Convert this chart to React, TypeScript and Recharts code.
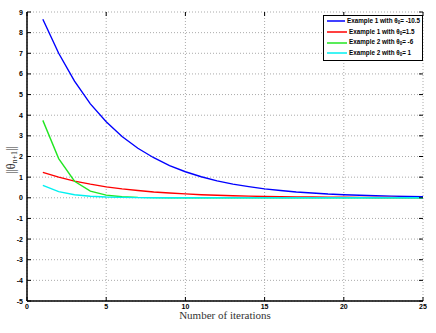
import { LineChart, Line, XAxis, YAxis, CartesianGrid } from 'recharts'

const iterations = [1, 2, 3, 4, 5, 6, 7, 8, 9, 10, 11, 12, 13, 14, 15, 16, 17, 18, 19, 20, 21, 22, 23, 24, 25]
const ex1Neg = [8.65, 7.0, 5.65, 4.55, 3.68, 2.97, 2.4, 1.94, 1.56, 1.26, 1.02, 0.82, 0.66, 0.54, 0.43, 0.35, 0.28, 0.23, 0.18, 0.15, 0.12, 0.1, 0.08, 0.06, 0.05]
const ex1Pos = [1.23, 1.0, 0.81, 0.66, 0.53, 0.43, 0.35, 0.28, 0.23, 0.19, 0.15, 0.12, 0.1, 0.08, 0.065, 0.053, 0.043, 0.035, 0.028, 0.023, 0.018, 0.015, 0.012, 0.01, 0.008]
const ex2Neg = [3.75, 1.9, 0.8, 0.32, 0.13, 0.05, 0.02, 0.01, 0.004, 0.002, 0.001, 0, 0, 0, 0, 0, 0, 0, 0, 0, 0, 0, 0, 0, 0]
const ex2Pos = [0.6, 0.3, 0.15, 0.075, 0.037, 0.018, 0.009, 0.005, 0.002, 0.001, 0, 0, 0, 0, 0, 0, 0, 0, 0, 0, 0, 0, 0, 0, 0]

const xTicks = [0, 5, 10, 15, 20, 25]
const yTicks = [-5, -4, -3, -2, -1, 0, 1, 2, 3, 4, 5, 6, 7, 8, 9]

const series = [
  { key: 'ex1Neg', color: '#0000ff', label: 'Example 1 with θ', value: '= -10.5' },
  { key: 'ex1Pos', color: '#ff0000', label: 'Example 1 with θ', value: '=1.5' },
  { key: 'ex2Neg', color: '#22e622', label: 'Example 2 with θ', value: '= -6' },
  { key: 'ex2Pos', color: '#00f0f0', label: 'Example 2 with θ', value: '= 1' },
]

const data = iterations.map((it, i) => ({
  iter: it,
  ex1Neg: ex1Neg[i],
  ex1Pos: ex1Pos[i],
  ex2Neg: ex2Neg[i],
  ex2Pos: ex2Pos[i],
}))

const tickFont = { fontSize: 7, fontWeight: 700, fontFamily: 'Liberation Sans, Arial, sans-serif', fill: '#000' }
const serif = 'Liberation Serif, Times New Roman, serif'

const XTick = (props: any) => {
  const { x, payload } = props
  return (
    <g>
      <line x1={x} y1={301} x2={x} y2={297} stroke="#000" strokeWidth={1} />
      <line x1={x} y1={12} x2={x} y2={16} stroke="#000" strokeWidth={1} />
      <text x={x} y={309} textAnchor="middle" style={tickFont}>{payload.value}</text>
    </g>
  )
}

const YTick = (props: any) => {
  const { y, payload } = props
  return (
    <g>
      <line x1={27} y1={y} x2={31} y2={y} stroke="#000" strokeWidth={1} />
      <line x1={423} y1={y} x2={419} y2={y} stroke="#000" strokeWidth={1} />
      <text x={23} y={y + 2.5} textAnchor="end" style={tickFont}>{payload.value}</text>
    </g>
  )
}

const LegendBox = () => (
  <div
    style={{
      position: 'absolute',
      left: 323,
      top: 15,
      width: 100,
      height: 46,
      boxSizing: 'border-box',
      border: '1.5px solid #000',
      background: '#fff',
      padding: '0px 2px 0px 3px',
      fontFamily: 'Liberation Sans, Arial, sans-serif',
      fontSize: 6.3,
      fontWeight: 700,
      lineHeight: '10.7px',
    }}
  >
    {series.map((s) => (
      <div key={s.key} style={{ display: 'flex', alignItems: 'center', whiteSpace: 'nowrap' }}>
        <svg width={20} height={4} style={{ marginRight: 2 }}>
          <line x1={0} y1={2} x2={20} y2={2} stroke={s.color} strokeWidth={1.5} />
        </svg>
        <span>
          {s.label}
          <sub style={{ fontSize: 4.5, verticalAlign: -1, lineHeight: 0 }}>0</sub>
          {s.value}
        </span>
      </div>
    ))}
  </div>
)

const YLabel = () => (
  <text x={15} y={160} transform="rotate(-90 15 160)" textAnchor="middle"
    style={{ fontFamily: serif, fontSize: 12, fill: '#333' }}>
    ||θ<tspan fontSize={8} dy={2}>n+1</tspan><tspan dy={-2}>||</tspan>
  </text>
)

export default function App() {
  return (
    <div style={{ position: 'absolute', left: 0, top: 0, width: 436, height: 333, background: '#fff' }}>
      <LineChart width={436} height={333} data={data} margin={{ top: 12, right: 13, left: 0, bottom: 0 }}>
        <CartesianGrid stroke="#aaa" strokeDasharray="1 2" />
        <XAxis
          dataKey="iter"
          type="number"
          domain={[0, 25]}
          ticks={xTicks}
          interval={0}
          height={32}
          tickLine={false}
          tickSize={0}
          tick={<XTick />}
          axisLine={{ stroke: '#000', strokeWidth: 1.5 }}
          label={{ value: 'Number of iterations', position: 'insideBottom', offset: 14, style: { fontFamily: serif, fontSize: 11, fill: '#333' } }}
        />
        <XAxis xAxisId="top" orientation="top" dataKey="iter" type="number" domain={[0, 25]} ticks={xTicks}
          height={0} tick={false} tickLine={false} axisLine={{ stroke: '#000', strokeWidth: 2 }} />
        <YAxis
          type="number"
          domain={[-5, 9]}
          ticks={yTicks}
          width={27}
          tickLine={false}
          tickSize={0}
          tick={<YTick />}
          interval={0}
          axisLine={{ stroke: '#000', strokeWidth: 1.5 }}
          label={<YLabel />}
        />
        <YAxis yAxisId="right" orientation="right" type="number" domain={[-5, 9]} width={0}
          tick={false} tickLine={false} axisLine={{ stroke: '#000', strokeWidth: 1.5 }} />
        {series.map((s) => (
          <Line key={s.key} dataKey={s.key} stroke={s.color} strokeWidth={1.4} dot={false} type="linear" isAnimationActive={false} />
        ))}
      </LineChart>
      <LegendBox />
    </div>
  )
}
